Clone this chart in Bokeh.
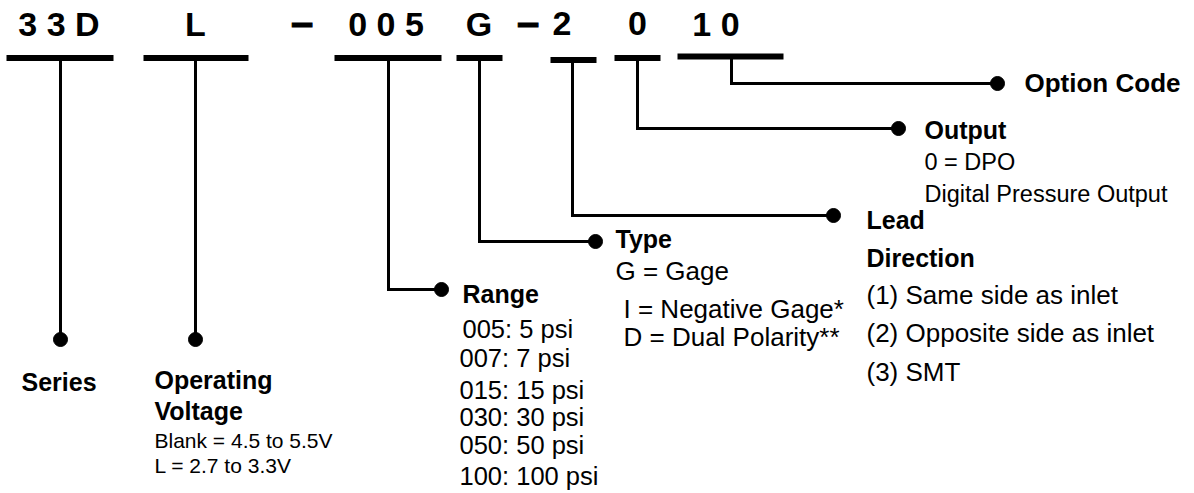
from bokeh.plotting import figure
from bokeh.models import Range1d
from bokeh.core.properties import value
from bokeh.embed import file_html
from bokeh.resources import INLINE

# ---------------- data ----------------
part_codes = ["3 3 D", "L", "0 0 5", "G", "2", "0", "1 0"]
separators = ["\u2013", "\u2013"]
field_titles = [["Series"], ["Operating", "Voltage"], ["Range"], ["Type"],
                ["Lead", "Direction"], ["Output"], ["Option Code"]]
field_options = [
    [],
    ["Blank = 4.5 to 5.5V", "L = 2.7 to 3.3V"],
    ["005: 5 psi", "007: 7 psi", "015: 15 psi", "030: 30 psi", "050: 50 psi", "100: 100 psi"],
    ["G = Gage", "I = Negative Gage*", "D = Dual Polarity**"],
    ["(1) Same side as inlet", "(2) Opposite side as inlet", "(3) SMT"],
    ["0 = DPO", "Digital Pressure Output"],
    [],
]

# ---------------- layout (page pixels) ----------------
bar_x0 = [6, 143, 334, 456, 550, 614, 677]
bar_x1 = [113, 248, 441, 502, 596, 660, 783]
bar_y = [57.5, 57.5, 57.5, 57.5, 59.5, 57.5, 56]
code_x = [58.5, 195, 385.5, 478.5, 561.5, 637, 715.5]
code_base = 37
code_size = 34
sep_x = [301.5, 527.5]
stem_x = [60, 195, 388, 479, 572, 637, 731]
elbow_y = [339, 339, 289, 241, 215, 128, 83]
dot_x = [60, 195, 441, 595, 833, 898, 997]
title_x = [21, 154, 462, 615, 866, 924, 1024]
title_base = [[391], [389, 420], [303], [248], [229, 267], [139], [93]]
title_size = [25, 25, 25, 25, 25, 25, 26]
option_x = [[], [154, 154], [462, 459, 459, 459, 459, 459], [615, 623, 623],
            [866, 866, 866], [924, 924], []]
option_base = [[], [448, 473], [339, 368, 400, 427, 455, 486], [281, 319, 347],
               [305, 343, 382], [171, 203], []]
option_size = [0, 21, 25.5, 26, 26, 23.5, 0]

FONT = value("Liberation Sans")
BASE_SHIFT = 0.4   # renderer places 'alphabetic' text ~0.4em low; compensate


def base_y(b, fs):
    return b - BASE_SHIFT * fs


p = figure(width=1194, height=493, output_backend="svg", toolbar_location=None,
           x_axis_type=None, y_axis_type=None,
           x_range=Range1d(0, 1194), y_range=Range1d(493, 0),
           min_border=0, min_border_left=0, min_border_right=0,
           min_border_top=0, min_border_bottom=0)
p.grid.visible = False
p.outline_line_color = None
p.background_fill_color = "white"
p.border_fill_color = "white"

# bars under part-number fields
p.segment(x0=bar_x0, y0=bar_y, x1=bar_x1, y1=bar_y, line_width=6,
          line_color="black", line_cap="butt")

# part-number characters
p.text(x=code_x, y=[base_y(code_base, code_size)] * len(code_x), text=part_codes,
       text_font=FONT, text_font_style="bold", text_font_size=f"{code_size}px",
       text_align="center", text_baseline="alphabetic", text_color="black")
p.text(x=sep_x, y=[base_y(code_base, 40)] * len(sep_x), text=separators,
       text_font=FONT, text_font_style="bold", text_font_size="40px",
       text_align="center", text_baseline="alphabetic", text_color="black",
       text_outline_color="black")

# connectors
xs, ys = [], []
for sx, by, ey, dx in zip(stem_x, bar_y, elbow_y, dot_x):
    xs.append([sx, sx, dx])
    ys.append([by, ey, ey])
p.multi_line(xs=xs, ys=ys, line_width=3, line_color="black", line_join="miter")
p.scatter(x=dot_x, y=elbow_y, size=14, color="black")

# titles
for tx, bases, lines, fs in zip(title_x, title_base, field_titles, title_size):
    p.text(x=[tx] * len(lines), y=[base_y(b, fs) for b in bases], text=lines,
           text_font=FONT, text_font_style="bold", text_font_size=f"{fs}px",
           text_align="left", text_baseline="alphabetic", text_color="black")

# options
for xs_o, bases, lines, fs in zip(option_x, option_base, field_options, option_size):
    if not lines:
        continue
    p.text(x=xs_o, y=[base_y(b, fs) for b in bases], text=lines, text_font=FONT,
           text_font_size=f"{fs}px", text_align="left",
           text_baseline="alphabetic", text_color="black")

open("out.html", "w").write(file_html(p, INLINE))
